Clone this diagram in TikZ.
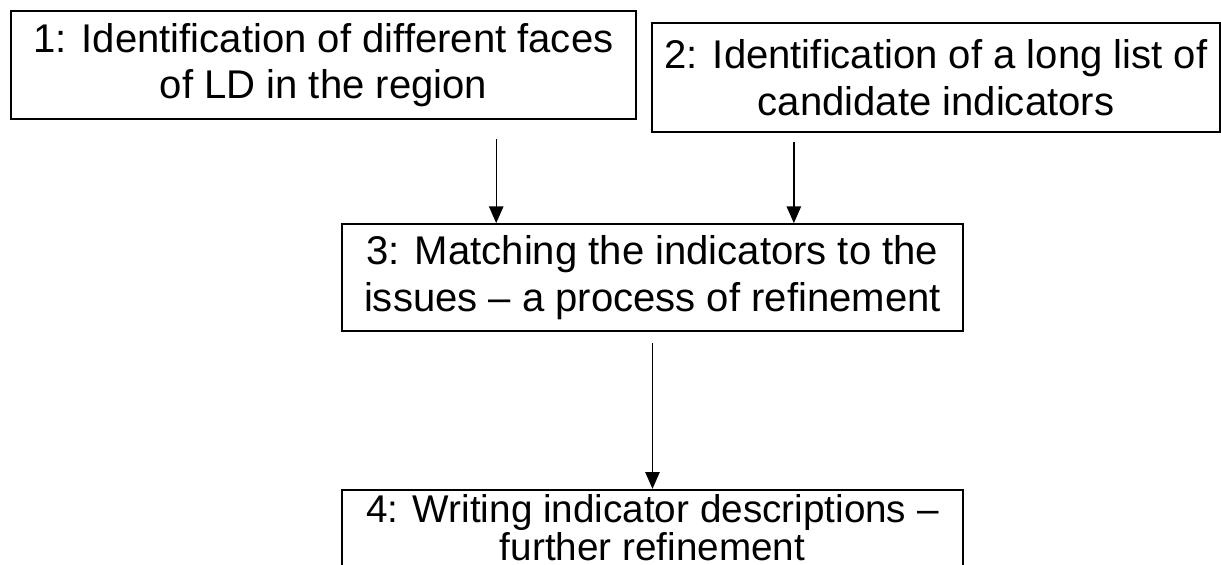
\documentclass[tikz,border=0pt]{standalone}
\usepackage{fontspec}
\setmainfont{Liberation Sans}
\usepackage{tikz}
\usetikzlibrary{arrows.meta, positioning, calc}

\begin{document}
\begin{tikzpicture}[
    stepbox/.style={rectangle, draw=black, line width=1.2pt,
                  inner sep=0pt, align=center,
                  font=\fontsize{28.5}{33}\selectfont},
    arr/.style={-{Triangle[length=4.2mm, width=3.6mm]}, line width=1pt, black},
  ]
    \useasboundingbox (0,0) rectangle (30.525,-14.125);

    % ── Top row ──────────────────────────────────
    \node[stepbox, minimum width=15.625cm, minimum height=2.7cm]
        (faces) at (8.0875,-1.625) {1: Identification of different faces\\of LD in the region};
    \node[stepbox, minimum width=14.2cm, minimum height=2.725cm]
        (list) at (23.4,-1.9375) {2: Identification of a long list of\\candidate indicators};

    % ── Matching and writing ─────────────────────
    \node[stepbox, font=\fontsize{28.5}{33}\selectfont, minimum width=15.525cm, minimum height=2.675cm]
        (match) at (16.3125,-6.9375) {3: Matching the indicators to the\\issues -- a process of refinement};
    \node[stepbox, font=\fontsize{27.5}{27}\selectfont, text depth=0.8cm,
          minimum width=15.525cm, minimum height=2.7cm, below=3.925cm of match]
        (write) {4: Writing indicator descriptions --\\further refinement};

    % ── Arrows ───────────────────────────────────
    \path (match.north west) -- (match.north east)
        coordinate[pos=0.249] (in1) coordinate[pos=0.727] (in2);
    \draw[arr, shorten <=0.475cm] (faces.south -| in1) -- (in1);
    \draw[arr, shorten <=0.225cm] (list.south -| in2) -- (in2);
    \draw[arr, shorten <=0.275cm] (match.south) -- (write.north);
  \end{tikzpicture}
\end{document}
